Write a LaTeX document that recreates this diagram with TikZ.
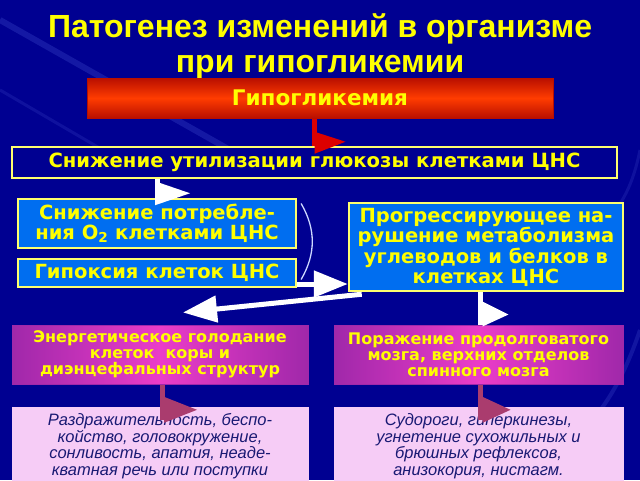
\documentclass[tikz,border=0pt]{standalone}
\usepackage{fontspec}
\setmainfont{Liberation Sans}
\newfontfamily\boxfont{DejaVu Sans}
\usetikzlibrary{arrows.meta}

\definecolor{bgblue}{RGB}{0,0,145}
\definecolor{streakblue}{RGB}{60,70,200}
\definecolor{textyellow}{RGB}{255,255,0}
\definecolor{edgeyellow}{RGB}{255,255,110}
\definecolor{boxblue}{RGB}{0,110,240}
\definecolor{hypotop}{RGB}{185,15,0}
\definecolor{hypomid}{RGB}{255,60,0}
\definecolor{mpurple}{RGB}{160,40,170}
\definecolor{mmagenta}{RGB}{235,60,200}
\definecolor{lightpink}{RGB}{246,204,246}
\definecolor{darkink}{RGB}{25,25,115}
\definecolor{flagred}{RGB}{220,0,0}
\definecolor{flagmauve}{RGB}{170,60,110}
\definecolor{bracketblue}{RGB}{205,215,255}

\tikzset{
    bluebox/.style={draw=edgeyellow, line width=2.5pt, fill=boxblue, text=textyellow,
        align=center, font=\boxfont\bfseries\fontsize{19.5}{18.5}\selectfont, inner sep=2pt},
    magentabox/.style={draw=mpurple, line width=1pt, left color=mpurple, right color=mpurple,
        middle color=mmagenta, text=textyellow, align=center,
        font=\boxfont\bfseries\fontsize{16}{16}\selectfont, inner sep=2pt},
    pinkbox/.style={draw=lightpink, fill=lightpink, text=darkink, align=center,
        font=\itshape\fontsize{16.5}{16.5}\selectfont, inner sep=2pt},
    bigarrow/.style={draw=white, line width=5pt, -{Triangle[length=34pt,width=26pt]}},
    flagbar/.style={line width=5pt}
}

\begin{document}
\begin{tikzpicture}[x=1pt,y=-1pt]
    \useasboundingbox (0,0) rectangle (640,480);
    \clip (0,0) rectangle (640,480);
    \fill[bgblue] (0,0) rectangle (640,480);
    % faint streaks of the slide background
    \draw[streakblue, opacity=0.35, line width=6pt] (0,20) -- (230,150);
    \draw[streakblue, opacity=0.25, line width=3pt] (0,90) -- (120,160);
    \draw[streakblue, opacity=0.3, line width=4pt] (640,330) to[bend left=20] (520,480);
    \draw[streakblue, opacity=0.25, line width=3pt] (640,150) to[bend left=15] (600,230);

    % Title
    \node[text=textyellow, align=center, font=\bfseries\fontsize{32}{35}\selectfont] (title) at (320,46) {Патогенез изменений в организме\\при гипогликемии};

    % Cause
    \node[draw=hypotop, line width=1pt, top color=hypotop, bottom color=hypotop, middle color=hypomid,
        text=textyellow, font=\boxfont\bfseries\fontsize{21.5}{21.5}\selectfont,
        minimum width=466pt, minimum height=40pt] (hypo) at (320,98) {Гипогликемия};
    \node[bluebox, fill=bgblue, font=\boxfont\bfseries\fontsize{19.6}{19.6}\selectfont,
        minimum width=605pt, minimum height=31pt] (util) at (314.5,162.5) {Снижение утилизации глюкозы клетками ЦНС};

    % Consequences in CNS
    \node[bluebox, minimum width=278pt, minimum height=49pt] (oxy) at (157,223.5) {Снижение потребле-\\ния О\textsubscript{2} клетками ЦНС};
    \node[bluebox, minimum width=278pt, minimum height=28pt] (hypox) at (157,273) {Гипоксия клеток ЦНС};
    \node[bluebox, minimum width=274pt, minimum height=88pt] (metab) at (486,247) {Прогрессирующее на-\\рушение метаболизма\\углеводов и белков в\\клетках ЦНС};

    % Damage
    \node[magentabox, minimum width=296pt, minimum height=59pt] (energy) at (160,354.5) {Энергетическое голодание\\клеток\ \ коры и\\диэнцефальных структур};
    \node[magentabox, minimum width=289pt, minimum height=59pt] (medulla) at (478.5,354.5) {Поражение продолговатого\\мозга, верхних отделов\\спинного мозга};

    % Symptoms
    \node[pinkbox, minimum width=296pt, minimum height=78pt] (cortexsigns) at (160,446) {Раздражительность, беспо-\\койство, головокружение,\\сонливость, апатия, неаде-\\кватная речь или поступки};
    \node[pinkbox, minimum width=289pt, minimum height=78pt] (stemsigns) at (478.5,446) {Судороги, гиперкинезы,\\угнетение сухожильных и\\брюшных рефлексов,\\анизокория, нистагм.};

    % Connections
    \coordinate (enin) at ([xshift=23pt,yshift=12pt]energy.north);
    \draw[bigarrow] ([yshift=-11pt]hypox.east) -- ([yshift=-11pt]hypox.east -| metab.west);
    \draw[bigarrow] ([xshift=14pt,yshift=-2pt]metab.south west) -- (enin);
    \draw[bracketblue, line width=1.3pt, line cap=round] ([xshift=4pt,yshift=-6pt]oxy.north east) to[bend left=30] ([xshift=4pt,yshift=9pt]hypox.south east);

    % Flags
    \draw[flagbar, flagred] (util.north |- hypo.south) -- (util.north);
    \fill[flagred] (util.north) ++(0,-14) -- ++(31,10) -- ++(-31,12) -- cycle;
    \draw[flagbar, white] (oxy.north |- util.south) -- (oxy.north);
    \fill[white] (oxy.north |- util.south) ++(-2,2) -- ++(35,12) -- ++(-35,12) -- cycle;
    \draw[flagbar, white] ([xshift=2pt]medulla.north |- metab.south) -- ([xshift=2pt]medulla.north);
    \fill[white] (medulla.north) ++(4,-23) -- ++(26,13) -- ++(-26,12) -- cycle;
    \draw[flagbar, flagmauve] ([xshift=2pt]energy.south) -- ([xshift=2pt,yshift=-13pt]energy.south |- cortexsigns.north);
    \fill[flagmauve] (energy.south |- cortexsigns.north) ++(4,-10) -- ++(33,13) -- ++(-33,13) -- cycle;
    \draw[flagbar, flagmauve] ([xshift=2pt]medulla.south) -- ([xshift=2pt,yshift=-13pt]medulla.south |- stemsigns.north);
    \fill[flagmauve] (medulla.south |- stemsigns.north) ++(4,-10) -- ++(28,13) -- ++(-28,13) -- cycle;
\end{tikzpicture}
\end{document}
